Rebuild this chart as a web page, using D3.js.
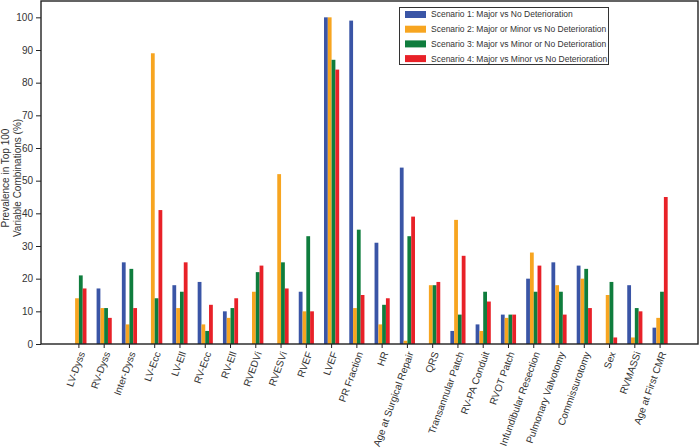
<!DOCTYPE html>
<html><head><meta charset="utf-8">
<script src="https://cdn.jsdelivr.net/npm/d3@7"></script>
<style>body{margin:0;background:#fff}svg{display:block;font-family:"Liberation Sans",Arial,sans-serif}</style>
</head><body><svg id="c" width="699" height="448"></svg>
<script>
const categories = ["LV-Dyss","RV-Dyss","Inter-Dyss","LV-Ecc","LV-Ell","RV-Ecc","RV-Ell","RVEDVi","RVESVi","RVEF","LVEF","PR Fraction","HR","Age at Surgical Repair","QRS","Transannular Patch","RV-PA Conduit","RVOT Patch","Infundibular Resection","Pulmonary Valvotomy","Commissurotomy","Sex","RVMASSi","Age at First CMR"];
const seriesNames = ["Scenario 1: Major vs No Deterioration","Scenario 2: Major or Minor vs No Deterioration","Scenario 3: Major vs Minor or No Deterioration","Scenario 4: Major vs Minor vs No Deterioration"];
const scenario1 = [0,17,25,0,18,19,10,0,0,16,100,99,31,54,0,4,6,9,20,25,24,0,18,5];
const scenario2 = [14,11,6,89,11,6,8,16,52,10,100,11,6,1,18,38,4,8,28,18,20,15,2,8];
const scenario3 = [21,11,23,14,16,4,11,22,25,33,87,35,12,33,18,9,16,9,16,16,23,19,11,16];
const scenario4 = [17,8,11,41,25,12,14,24,17,10,84,15,14,39,19,27,13,9,24,9,11,2,10,45];
const yTicks = [0,10,20,30,40,50,60,70,80,90,100];
const colors = ["#3a55a6","#f7a520","#0f7d3d","#e82128"];
const series = [scenario1,scenario2,scenario3,scenario4];

const svg = d3.select("#c");
const L=41,R=698,T=1,B=344;
const x = d3.scaleBand().domain(categories).range([L,R]).paddingInner(0).paddingOuter(1);
const y = d3.scaleLinear().domain([0,105]).range([B,T]);
const bw = x.step()*0.15;
const xs = d3.scaleLinear().domain([-1.5,1.5]).range([-1.5*bw,1.5*bw]);

// bars
series.forEach((vals,si)=>{
  svg.append("g").selectAll("rect").data(vals).join("rect")
    .attr("x",(d,i)=>x(categories[i])+x.bandwidth()/2+xs(si-1.5)-bw/2)
    .attr("width",bw)
    .attr("y",d=>y(d))
    .attr("height",d=>y(0)-y(d))
    .attr("fill",colors[si]);
});

// axes
const ya = svg.append("g").attr("transform",`translate(${L},0)`)
  .call(d3.axisLeft(y).tickValues(yTicks).tickSize(5).tickPadding(3));
ya.select(".domain").remove();
ya.selectAll("line").attr("stroke","#222");
ya.selectAll("text").attr("font-size",10).attr("fill","#333").attr("font-family","Liberation Sans, Arial, sans-serif");

const xa = svg.append("g").attr("transform",`translate(0,${B})`)
  .call(d3.axisBottom(x).tickSize(4).tickFormat(d=>d));
xa.select(".domain").remove();
xa.selectAll("line").attr("stroke","#222");
xa.selectAll("text")
  .attr("font-size",10).attr("fill","#333").attr("font-family","Liberation Sans, Arial, sans-serif")
  .attr("text-anchor","end")
  .attr("dy","0.35em")
  .attr("transform","translate(3,8) rotate(-70)")
  .attr("x",0).attr("y",0);

// frame
svg.append("rect").attr("x",L).attr("y",T).attr("width",R-L).attr("height",B-T)
  .attr("fill","none").attr("stroke","#222").attr("stroke-width",1.4);

// y title
const yt = svg.append("text").attr("transform","translate(0,178) rotate(-90)")
  .attr("text-anchor","middle").attr("font-size",10).attr("fill","#333");
yt.append("tspan").attr("x",0).attr("y",9).text("Prevalence in Top 100");
yt.append("tspan").attr("x",0).attr("y",21).text("Variable Combinations (%)");

// legend
const lg = svg.append("g");
lg.append("rect").attr("x",399.5).attr("y",7.5).attr("width",209).attr("height",57)
  .attr("fill","#fff").attr("stroke","#333").attr("stroke-width",1);
seriesNames.forEach((n,i)=>{
  const cy = 14.5 + i*14.7;
  lg.append("rect").attr("x",405).attr("y",cy-3.5).attr("width",21).attr("height",7).attr("fill",colors[i]);
  lg.append("text").attr("x",431).attr("y",cy).attr("dy","0.35em").attr("font-size",8.5).attr("fill","#333").text(n);
});
</script></body></html>
